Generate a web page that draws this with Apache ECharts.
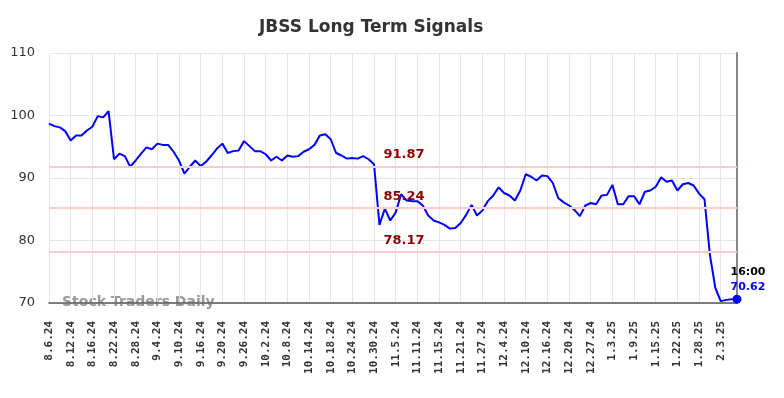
<!DOCTYPE html>
<html style="height: 100%">
<head>
    <meta charset="utf-8">
    <title>JBSS Long Term Signals</title>
</head>
<body style="height: 100%; margin: 0">
<div id="container" style="width: 784px; height: 398px"></div>
<script type="text/javascript" src="https://cdn.jsdelivr.net/npm/echarts@6/dist/echarts.min.js"></script>

<script type="text/javascript">
    // trading days, 8.6.24 .. 2.6.25
    var dates = [
        '8.6.24','8.7.24','8.8.24','8.9.24','8.12.24','8.13.24','8.14.24','8.15.24','8.16.24','8.19.24',
        '8.20.24','8.21.24','8.22.24','8.23.24','8.26.24','8.27.24','8.28.24','8.29.24','8.30.24','9.3.24',
        '9.4.24','9.5.24','9.6.24','9.9.24','9.10.24','9.11.24','9.12.24','9.13.24','9.16.24','9.17.24',
        '9.18.24','9.19.24','9.20.24','9.23.24','9.24.24','9.25.24','9.26.24','9.27.24','9.30.24','10.1.24',
        '10.2.24','10.3.24','10.4.24','10.7.24','10.8.24','10.9.24','10.10.24','10.11.24','10.14.24','10.15.24',
        '10.16.24','10.17.24','10.18.24','10.21.24','10.22.24','10.23.24','10.24.24','10.25.24','10.28.24','10.29.24',
        '10.30.24','10.31.24','11.1.24','11.4.24','11.5.24','11.6.24','11.7.24','11.8.24','11.11.24','11.12.24',
        '11.13.24','11.14.24','11.15.24','11.18.24','11.19.24','11.20.24','11.21.24','11.22.24','11.25.24','11.26.24',
        '11.27.24','11.29.24','12.2.24','12.3.24','12.4.24','12.5.24','12.6.24','12.9.24','12.10.24','12.11.24',
        '12.12.24','12.13.24','12.16.24','12.17.24','12.18.24','12.19.24','12.20.24','12.23.24','12.24.24','12.26.24',
        '12.27.24','12.30.24','12.31.24','1.2.25','1.3.25','1.6.25','1.7.25','1.8.25','1.9.25','1.10.25',
        '1.13.25','1.14.25','1.15.25','1.16.25','1.17.25','1.21.25','1.22.25','1.23.25','1.24.25','1.27.25',
        '1.28.25','1.29.25','1.30.25','1.31.25','2.3.25','2.4.25','2.5.25','2.6.25'
    ];

    var closes = [
        98.7, 98.3, 98.1, 97.5, 96.0, 96.8, 96.8, 97.6, 98.2, 99.9,
        99.7, 100.7, 93.0, 93.9, 93.5, 91.8, 92.8, 93.9, 94.9, 94.6,
        95.5, 95.3, 95.3, 94.2, 92.8, 90.7, 91.8, 92.8, 91.9, 92.6,
        93.6, 94.7, 95.5, 94.0, 94.3, 94.4, 95.9, 95.1, 94.3, 94.3,
        93.8, 92.8, 93.4, 92.8, 93.6, 93.4, 93.5, 94.2, 94.6, 95.3,
        96.8, 97.0, 96.2, 94.0, 93.6, 93.1, 93.2, 93.1, 93.5, 93.0,
        92.2, 82.5, 85.1, 83.2, 84.5, 87.4, 86.4, 86.3, 86.3, 85.6,
        84.0, 83.2, 82.9, 82.5, 81.9, 82.0, 82.8, 84.1, 85.7, 84.0,
        84.8, 86.3, 87.2, 88.5, 87.6, 87.2, 86.4, 88.0, 90.6, 90.2,
        89.6, 90.4, 90.3, 89.2, 86.8, 86.1, 85.6, 84.9, 83.9, 85.6,
        86.0, 85.8, 87.2, 87.3, 88.9, 85.8, 85.8, 87.1, 87.1, 85.8,
        87.8, 88.0, 88.6, 90.1, 89.4, 89.6, 88.0, 89.0, 89.2, 88.8,
        87.5, 86.6, 77.7, 72.4, 70.3, 70.5, 70.6, 70.62
    ];

    var signalLevels = [91.87, 85.24, 78.17];
    var yTicks = [70, 80, 90, 100, 110];
    var lastTime = '16:00';

    var dom = document.getElementById("container");
    var myChart = echarts.init(dom);
    var option = null;

    var lastIdx = closes.length - 1;
    var seriesData = closes.map(function (v, i) {
        if (i !== lastIdx) return v;
        return {
            value: v,
            symbolSize: 9,
            label: {
                show: true,
                position: [-2, -30],
                align: 'left',
                formatter: '{t|' + lastTime + '}\n{v|' + v.toFixed(2) + '}',
                rich: {
                    t: {color: '#000', fontWeight: 'bold', fontSize: 11, fontFamily: 'DejaVu Sans', lineHeight: 15},
                    v: {color: '#0000ff', fontWeight: 'bold', fontSize: 11, fontFamily: 'DejaVu Sans', lineHeight: 15}
                }
            }
        };
    });

    option = {
        animation: false,
        backgroundColor: '#fff',
        title: {
            text: 'JBSS Long Term Signals',
            left: 254,
            top: 14,
            textStyle: {fontSize: 17, fontWeight: 'bold', color: '#333', fontFamily: 'DejaVu Sans'}
        },
        grid: {left: 49, right: 47, top: 53, bottom: 95},
        graphic: [{
            type: 'text',
            left: 62,
            top: 295,
            style: {text: 'Stock Traders Daily', fill: '#999', font: 'bold 14px DejaVu Sans'}
        }],
        xAxis: {
            type: 'category',
            data: dates,
            boundaryGap: false,
            axisLine: {lineStyle: {color: '#555', width: 1.5}},
            axisTick: {show: false},
            axisLabel: {
                interval: function (i) { return i % 4 === 0; },
                rotate: 90,
                margin: 18,
                color: '#333',
                fontSize: 11,
                fontWeight: 'bold',
                fontFamily: 'DejaVu Sans Mono'
            },
            splitLine: {
                show: true,
                interval: function (i) { return i % 4 === 0; },
                lineStyle: {color: '#e6e6e6'}
            }
        },
        yAxis: [{
            type: 'value',
            min: yTicks[0],
            max: yTicks[yTicks.length - 1],
            interval: 10,
            axisLine: {show: false},
            axisTick: {show: false},
            axisLabel: {color: '#333', fontSize: 13, margin: 14, fontFamily: 'DejaVu Sans'},
            splitLine: {lineStyle: {color: '#e6e6e6'}}
        }, {
            type: 'value',
            position: 'right',
            min: yTicks[0],
            max: yTicks[yTicks.length - 1],
            axisLine: {show: true, lineStyle: {color: '#888', width: 2}},
            axisTick: {show: false},
            axisLabel: {show: false},
            splitLine: {show: false}
        }],
        series: [{
            type: 'line',
            data: seriesData,
            showSymbol: true,
            symbol: 'circle',
            symbolSize: 0,
            lineStyle: {color: '#0000ff', width: 2},
            itemStyle: {color: '#0000ff'},
            markLine: {
                silent: true,
                symbol: 'none',
                lineStyle: {color: '#ffcccc', width: 2, type: 'solid'},
                label: {
                    position: 'middle',
                    offset: [11, 0],
                    color: '#8b0000',
                    fontWeight: 'bold',
                    fontSize: 13,
                    fontFamily: 'DejaVu Sans',
                    formatter: function (p) { return p.value.toFixed(2); }
                },
                data: signalLevels.map(function (v) { return {yAxis: v}; })
            }
        }]
    };

    if (option && typeof option === "object") {
        myChart.setOption(option, true);
    }
</script>
</body>
</html>
